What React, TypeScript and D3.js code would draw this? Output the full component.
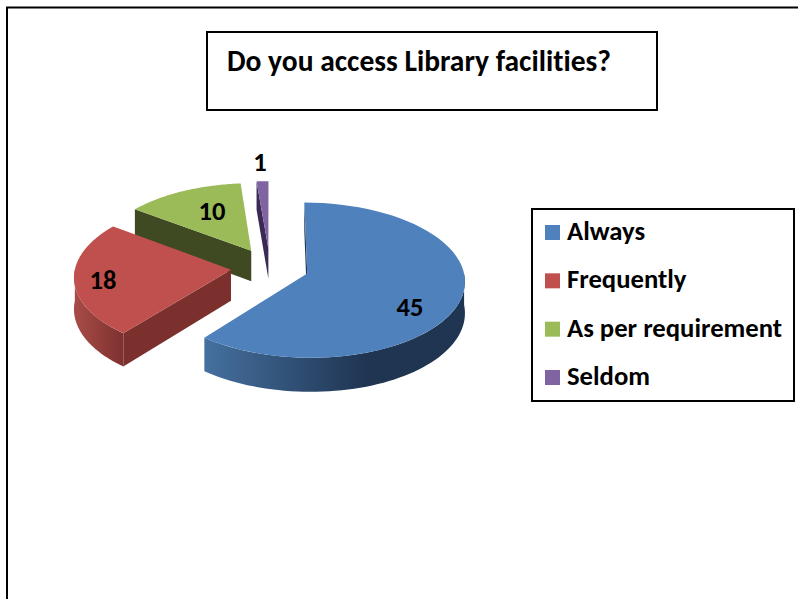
import React from "react";
import * as d3 from "d3";

const categories = ["Always", "Frequently", "As per requirement", "Seldom"];
const values = [45, 18, 10, 1];
const topColors = ["#4f81bd", "#c0504d", "#9bbb59", "#8064a2"];
const edgeColors = ["#1f3552", "#7b302e", "#3f4a22", "#3a2a55"];
const wallLeft = ["#45709f", "#a84c48", "#5f7536", "#4d3c62"];
const wallRight = ["#1f3552", "#7e312f", "#3f4a22", "#3a2a55"];
const labelAt: [number, number][] = [[410, 316], [103, 289], [212, 220], [260, 171]];

const W = 798, H = 599;
const X0 = 270, Y0 = 267.2, SX = 1.005, TILT = 0.49, D = 1850, R = 155, EXPLODE = 39, DEPTH = 31;

const project = (u: number, v: number, h = 0): [number, number] => {
  const f = D / (D + v);
  return [X0 + SX * u * f, Y0 - TILT * v * f + h * f];
};

const FONT = "Carlito, Lato, sans-serif";
const textStyle = { fontVariantLigatures: "none" } as React.CSSProperties;

export default function App() {
  const arcs = d3.pie<number>().sort(null).startAngle(0).endAngle(2 * Math.PI)(values);
  const line = d3.line<[number, number]>();

  const slices = arcs.map((a, i) => {
    const mid = (a.startAngle + a.endAngle) / 2;
    const ou = EXPLODE * Math.sin(mid), ov = EXPLODE * Math.cos(mid);
    const pt = (ang: number, h = 0) => project(ou + R * Math.sin(ang), ov + R * Math.cos(ang), h);
    const apex = (h = 0) => project(ou, ov, h);
    const steps = d3.range(0, 61).map(k => a.startAngle + (a.endAngle - a.startAngle) * k / 60);
    const top = line([apex(), ...steps.map(s => pt(s))]) + "Z";

    const faces: string[] = [];
    if (Math.sin(a.startAngle) <= 1e-6)
      faces.push(line([apex(), pt(a.startAngle), pt(a.startAngle, DEPTH), apex(DEPTH)]) + "Z");
    if (Math.sin(a.endAngle) > 1e-6)
      faces.push(line([apex(), pt(a.endAngle), pt(a.endAngle, DEPTH), apex(DEPTH)]) + "Z");

    const w0 = Math.max(a.startAngle, Math.PI / 2), w1 = Math.min(a.endAngle, 1.5 * Math.PI);
    let wall: string | null = null, x0 = 0, x1 = 0;
    if (w1 > w0) {
      const ws = d3.range(0, 61).map(k => w0 + (w1 - w0) * k / 60);
      wall = line([...ws.map(s => pt(s)), ...ws.slice().reverse().map(s => pt(s, DEPTH))]) + "Z";
      const xs = ws.map(s => pt(s)[0]);
      x0 = d3.min(xs)!; x1 = d3.max(xs)!;
    }
    return { i, top, faces, wall, x0, x1 };
  });

  const order = [3, 2, 1, 0];
  const legendY = d3.scalePoint<string>().domain(categories).range([232.5, 377.5]);

  return (
    <svg width={W} height={H} viewBox={`0 0 ${W} ${H}`} style={{ position: "fixed", left: 0, top: 0, background: "#fff" }}>
      <defs>
        {slices.filter(s => s.wall).map(s => (
          <linearGradient key={s.i} id={`wall${s.i}`} gradientUnits="userSpaceOnUse" x1={s.x0} x2={s.i === 0 ? s.x0 + (s.x1 - s.x0) * 0.62 : s.x1} y1={0} y2={0}>
            <stop offset="0" stopColor={wallLeft[s.i]} />
            <stop offset="1" stopColor={wallRight[s.i]} />
          </linearGradient>
        ))}
      </defs>
      <path d="M7 599V7.5H798" fill="none" stroke="#000" strokeWidth={2} />
      <rect x={207} y={32} width={450} height={78} fill="#fff" stroke="#000" strokeWidth={2} />
      <text x={227} y={71} fontFamily={FONT} fontWeight={700} fontSize={29.5} fill="#000" style={textStyle}>Do you access Library facilities?</text>

      {order.map(i => {
        const s = slices[i];
        return (
          <g key={i}>
            {s.faces.map((d, k) => <path key={k} d={d} fill={edgeColors[i]} />)}
            {s.wall && <path d={s.wall} fill={`url(#wall${i})`} />}
            <path d={s.top} fill={topColors[i]} />
          </g>
        );
      })}

      {values.map((v, i) => (
        <text key={i} x={labelAt[i][0]} y={labelAt[i][1]} textAnchor="middle" fontFamily={FONT} fontWeight={700} fontSize={26.5} fill="#000">{v}</text>
      ))}

      <rect x={532} y={209} width={262} height={192} fill="#fff" stroke="#000" strokeWidth={2} />
      {categories.map((c, i) => {
        const y = legendY(c)!;
        return (
          <g key={c}>
            <rect x={545} y={y - 7.5} width={15} height={15} fill={topColors[i]} />
            <text x={567} y={y + 7.5} fontFamily={FONT} fontWeight={700} fontSize={26.7} fill="#000" style={textStyle}>{c}</text>
          </g>
        );
      })}
    </svg>
  );
}
